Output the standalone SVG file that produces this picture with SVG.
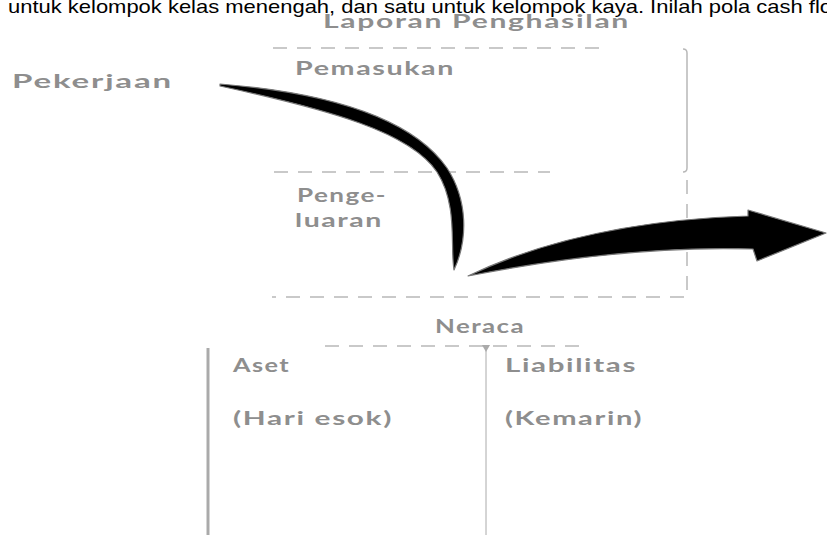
<svg xmlns="http://www.w3.org/2000/svg" width="827" height="535" viewBox="0 0 827 535">
<style>
.cap{font-family:"Liberation Sans",Arial,sans-serif;font-size:19px;fill:#000}
.lbl{font-family:Lato,"Open Sans","DejaVu Sans",sans-serif;font-weight:bold;fill:#8e8e8e;font-size:18px;letter-spacing:1px}
.frame{fill:none;stroke:#b8b8b8;stroke-width:1.5}
.dash{stroke-dasharray:14 10}
.arrow{fill:#000;stroke:#777;stroke-width:1.2;stroke-linejoin:round}
</style>
<rect width="827" height="535" fill="#fff"/>
<text class="cap" x="8" y="13" textLength="824" lengthAdjust="spacingAndGlyphs">untuk kelompok kelas menengah, dan satu untuk kelompok kaya. Inilah pola cash flo</text>

<g id="laporan-penghasilan">
  <text class="lbl" x="323" y="28" font-size="16" textLength="307" lengthAdjust="spacingAndGlyphs">Laporan Penghasilan</text>
  <path class="frame dash" d="M273,48 L600,48"/>
  <path class="frame" d="M683,49 Q687,49 687,53 L687,168 Q687,172 683,172"/>
  <path class="frame dash" d="M274,172 L550,172"/>
  <path class="frame dash" d="M687,180 L687,297 L272,297"/>
</g>
<g id="pemasukan">
  <text class="lbl" x="295" y="75" textLength="160" lengthAdjust="spacingAndGlyphs">Pemasukan</text>
</g>
<g id="pengeluaran">
  <text class="lbl" x="297" y="202" textLength="90" lengthAdjust="spacingAndGlyphs">Penge-</text>
  <text class="lbl" x="295" y="227" textLength="88" lengthAdjust="spacingAndGlyphs">luaran</text>
</g>
<g id="pekerjaan">
  <text class="lbl" x="12" y="88" font-size="20" textLength="161" lengthAdjust="spacingAndGlyphs">Pekerjaan</text>
</g>

<g id="neraca">
  <text class="lbl" x="435" y="333" textLength="90" lengthAdjust="spacingAndGlyphs">Neraca</text>
  <path class="frame dash" d="M325,346 L580,346"/>
  <line x1="208" y1="348" x2="208" y2="535" stroke="#aaa" stroke-width="3"/>
  <line x1="486" y1="348" x2="486" y2="535" stroke="#aaa" stroke-width="1"/>
  <path d="M482,345 L490,345 L486,352 Z" fill="#aaa"/>
</g>
<g id="aset">
  <text class="lbl" x="233" y="372" textLength="57" lengthAdjust="spacingAndGlyphs">Aset</text>
  <text class="lbl" x="233" y="425" textLength="160" lengthAdjust="spacingAndGlyphs">(Hari esok)</text>
</g>
<g id="liabilitas">
  <text class="lbl" x="505" y="372" textLength="132" lengthAdjust="spacingAndGlyphs">Liabilitas</text>
  <text class="lbl" x="505" y="425" textLength="138" lengthAdjust="spacingAndGlyphs">(Kemarin)</text>
</g>

<g id="connectors">
  <path class="arrow" d="M220,84 C320,92 410,115 447,168 C468,200 468,240 454,270 C450,245 458,205 437,172 C410,132 330,110 220,86 Z"/>
  <path class="arrow" d="M468,276 C535,244 625,220 748,216 L748,210 L826,233 L757,261 L753,249 C660,246 560,258 468,276 Z"/>
</g>
</svg>
